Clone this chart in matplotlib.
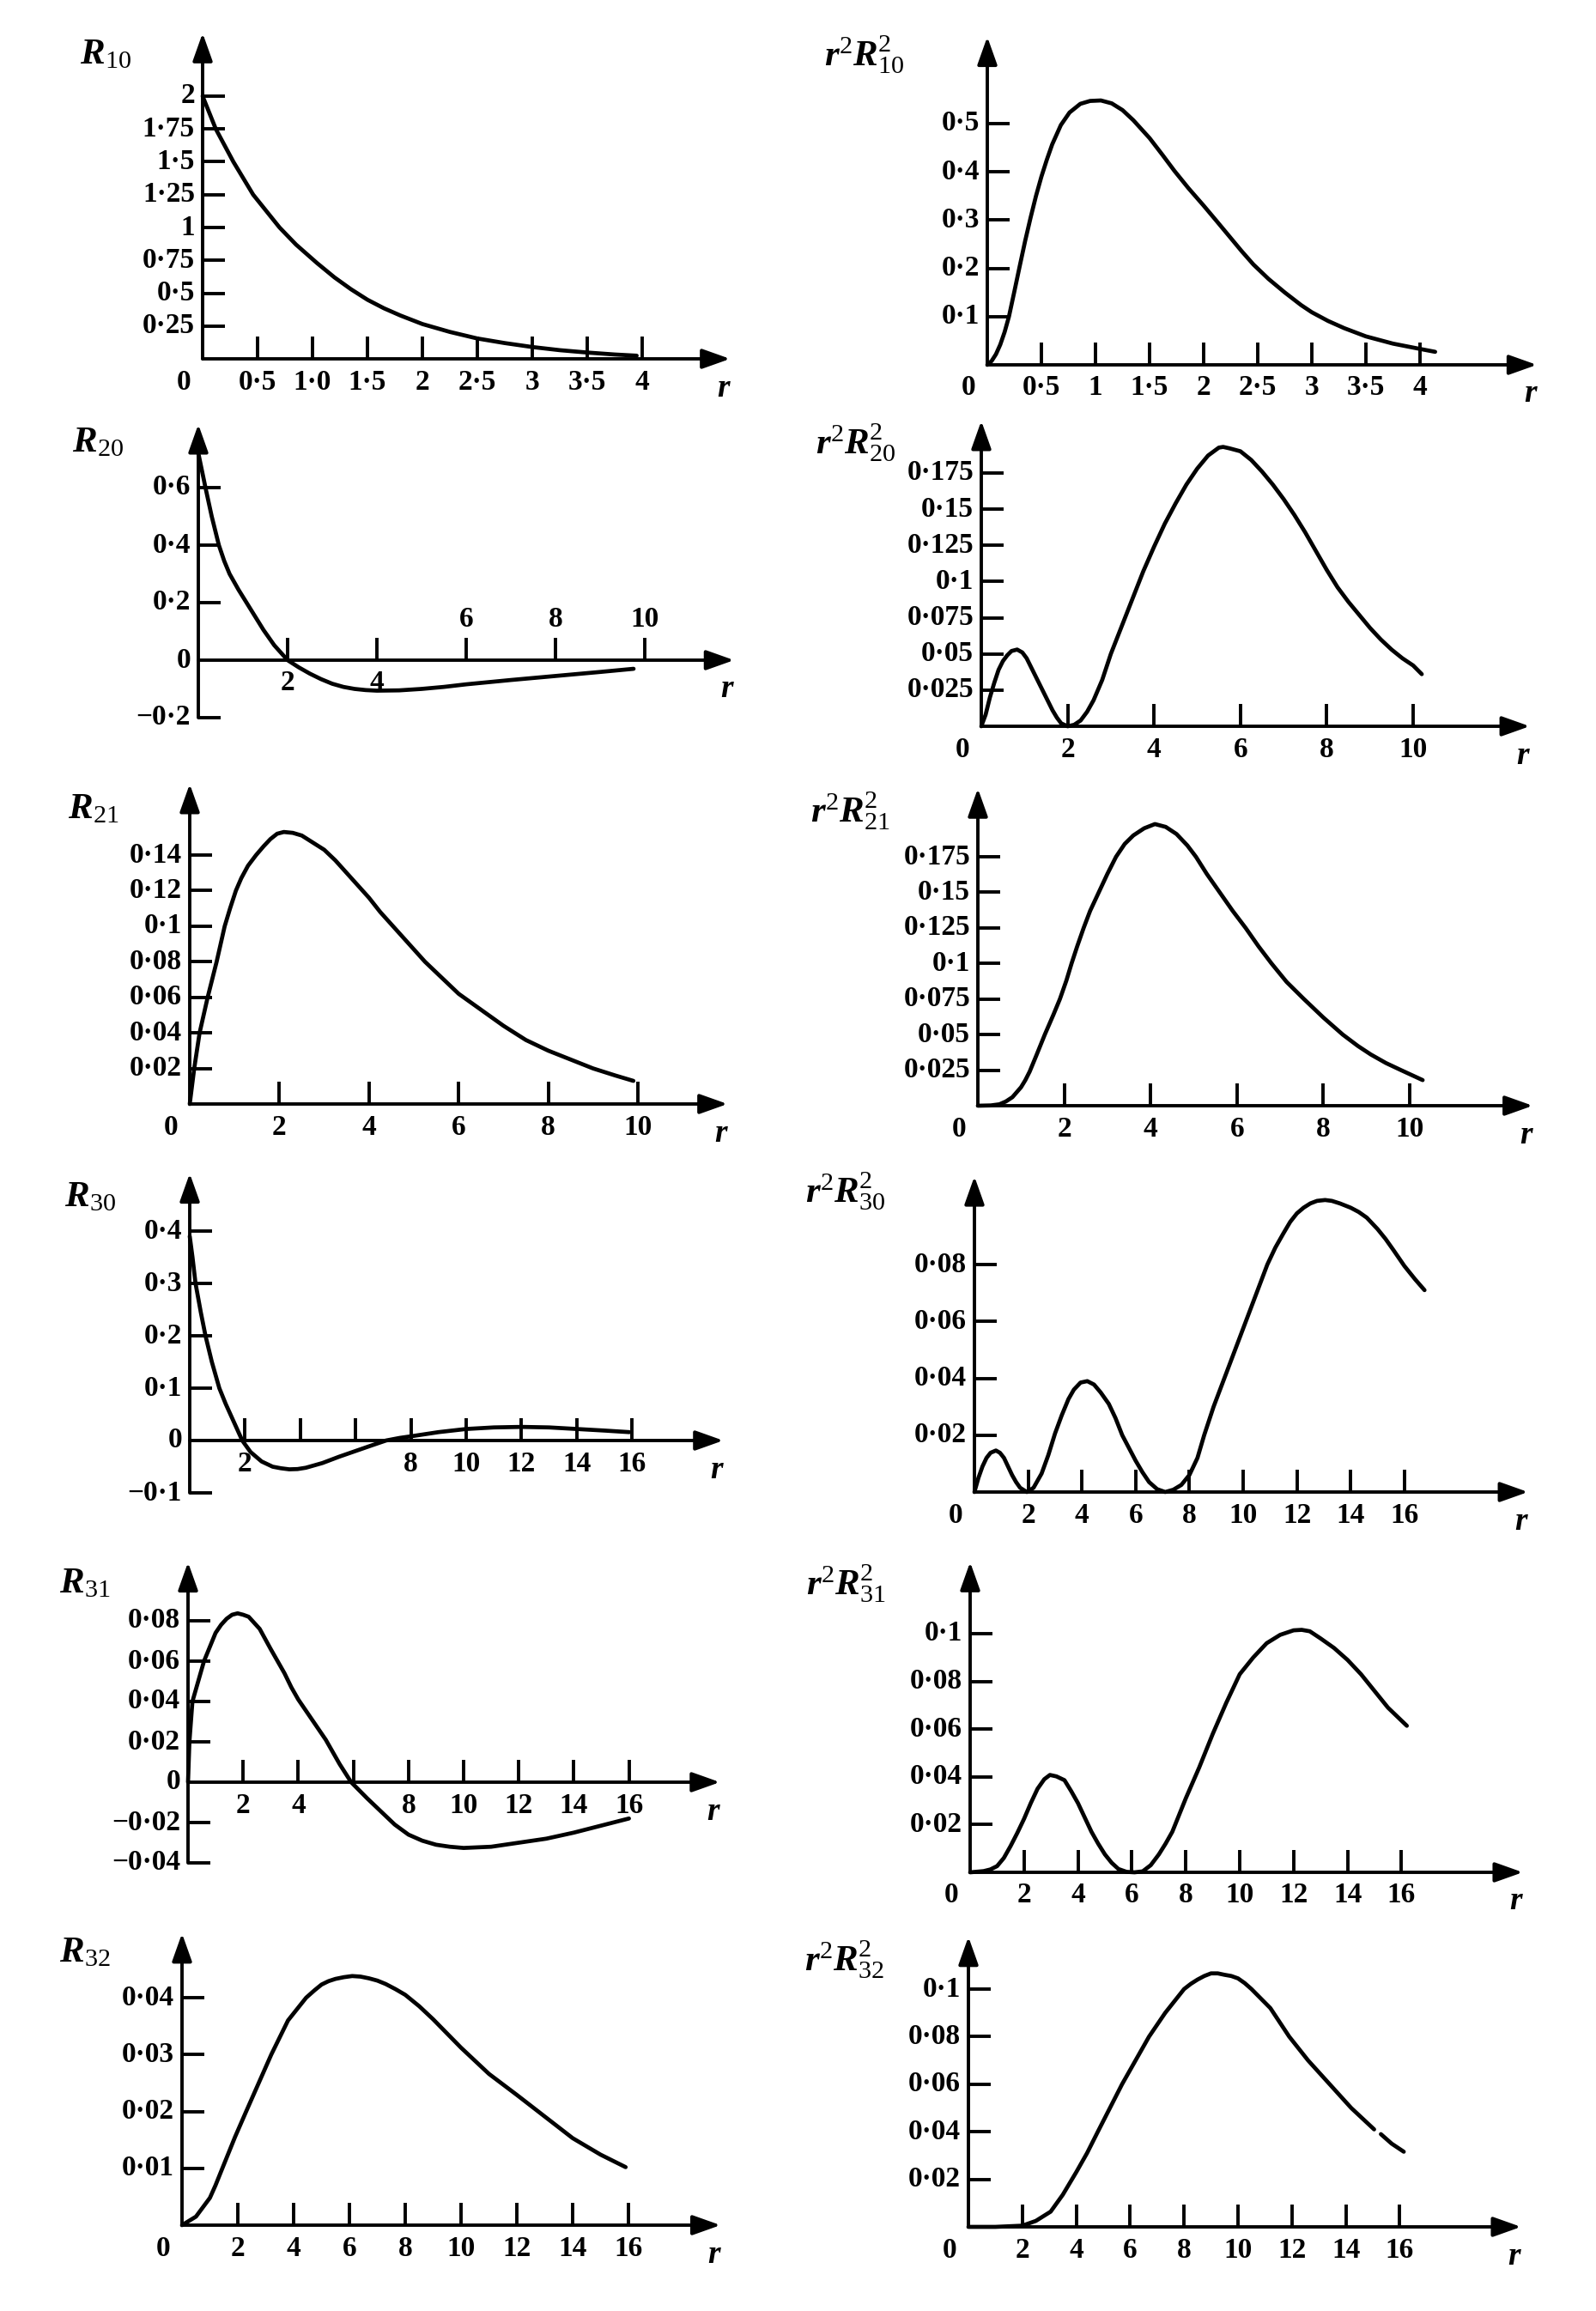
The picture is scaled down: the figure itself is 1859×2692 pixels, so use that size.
import numpy as np
import matplotlib
matplotlib.use('Agg')
import matplotlib.pyplot as plt

plt.rcParams['font.family'] = ['Liberation Serif', 'DejaVu Serif']
plt.rcParams['mathtext.fontset'] = 'custom'
plt.rcParams['mathtext.rm'] = 'Liberation Serif'
plt.rcParams['mathtext.it'] = 'Liberation Serif:italic'
plt.rcParams['mathtext.bf'] = 'Liberation Serif:bold'
HAS_BFIT = 'mathtext.bfit' in plt.rcParams
if HAS_BFIT:
    plt.rcParams['mathtext.bfit'] = 'Liberation Serif:italic:bold'
ITB = r'\mathbfit' if HAS_BFIT else r'\mathit'

# ---------------- data ----------------
R10_r = [0, 0.12, 0.28, 0.46, 0.70, 0.85, 1.04, 1.2, 1.35, 1.5, 1.65, 1.8, 2.0, 2.25, 2.5, 2.75, 3.0, 3.25, 3.5, 3.75, 3.95]
R10_v = [2.0, 1.75, 1.5, 1.25, 1.0, 0.87, 0.73, 0.62, 0.53, 0.45, 0.385, 0.33, 0.265, 0.205, 0.155, 0.12, 0.09, 0.066, 0.048, 0.033, 0.024]
R10_xt = [0.5, 1.0, 1.5, 2.0, 2.5, 3.0, 3.5, 4.0]
R10_xtl = ['0·5', '1·0', '1·5', '2', '2·5', '3', '3·5', '4']
R10_yt = [0.25, 0.5, 0.75, 1.0, 1.25, 1.5, 1.75, 2.0]
R10_ytl = ['0·25', '0·5', '0·75', '1', '1·25', '1·5', '1·75', '2']

P10_r = [0, 0.04, 0.08, 0.12, 0.16, 0.2, 0.25, 0.3, 0.35, 0.4, 0.45, 0.5, 0.55, 0.6, 0.68, 0.76, 0.86, 0.95, 1.05,
         1.15, 1.25, 1.35, 1.5, 1.62, 1.73, 1.86, 2.0, 2.12, 2.25, 2.35, 2.46, 2.6, 2.75, 2.9, 3.0, 3.15, 3.3, 3.5,
         3.75, 4.0, 4.14]
P10_v = [0, 0.008, 0.022, 0.042, 0.068, 0.1, 0.152, 0.205, 0.257, 0.305, 0.35, 0.39, 0.425, 0.457, 0.497, 0.523,
         0.541, 0.547, 0.548, 0.542, 0.528, 0.507, 0.47, 0.435, 0.402, 0.366, 0.33, 0.298, 0.263, 0.236, 0.208, 0.178,
         0.15, 0.124, 0.109, 0.091, 0.076, 0.059, 0.044, 0.033, 0.027]
P10_xt = [0.5, 1.0, 1.5, 2.0, 2.5, 3.0, 3.5, 4.0]
P10_xtl = ['0·5', '1', '1·5', '2', '2·5', '3', '3·5', '4']
P10_yt = [0.1, 0.2, 0.3, 0.4, 0.5]
P10_ytl = ['0·1', '0·2', '0·3', '0·4', '0·5']

R20_r = [0, 0.08, 0.16, 0.23, 0.3, 0.38, 0.46, 0.58, 0.7, 0.9, 1.08, 1.3, 1.46, 1.7, 2.0, 2.25, 2.5, 2.75, 3.0,
         3.25, 3.5, 3.75, 4.0, 4.5, 5.0, 5.5, 6.0, 7.0, 8.0, 9.0, 9.75]
R20_v = [0.72, 0.66, 0.6, 0.55, 0.5, 0.45, 0.4, 0.345, 0.3, 0.245, 0.2, 0.145, 0.105, 0.052, 0.0, -0.025, -0.047,
         -0.066, -0.082, -0.093, -0.1, -0.104, -0.106, -0.105, -0.1, -0.093, -0.084, -0.069, -0.055, -0.041, -0.03]
R20_xt = [2, 4, 6, 8, 10]
R20_xtl = ['2', '4', '6', '8', '10']
R20_yt = [-0.2, 0.2, 0.4, 0.6]
R20_ytl = ['−0·2', '0·2', '0·4', '0·6']

P20_r = [0, 0.1, 0.2, 0.3, 0.4, 0.5, 0.6, 0.7, 0.83, 0.95, 1.05, 1.15, 1.25, 1.35, 1.45, 1.55, 1.65, 1.75, 1.85,
         2.0, 2.15, 2.3, 2.45, 2.6, 2.8, 3.0, 3.25, 3.5, 3.75, 4.0, 4.25, 4.5, 4.75, 5.0, 5.25, 5.5, 5.6, 5.75, 6.0,
         6.25, 6.5, 6.75, 7.0, 7.25, 7.5, 7.75, 8.0, 8.25, 8.5, 8.75, 9.0, 9.25, 9.5, 9.75, 10.0, 10.2]
P20_v = [0, 0.008, 0.02, 0.03, 0.039, 0.045, 0.049, 0.052, 0.053, 0.051, 0.047, 0.041, 0.035, 0.029, 0.023, 0.017,
         0.011, 0.006, 0.002, 0.0, 0.001, 0.004, 0.01, 0.018, 0.032, 0.05, 0.069, 0.088, 0.107, 0.124, 0.14, 0.154,
         0.167, 0.178, 0.187, 0.1925, 0.193, 0.192, 0.19, 0.184, 0.176, 0.167, 0.157, 0.146, 0.134, 0.121, 0.108,
         0.096, 0.086, 0.077, 0.068, 0.06, 0.053, 0.047, 0.042, 0.036]
P20_xt = [2, 4, 6, 8, 10]
P20_xtl = ['2', '4', '6', '8', '10']
P20_yt = [0.025, 0.05, 0.075, 0.1, 0.125, 0.15, 0.175]
P20_ytl = ['0·025', '0·05', '0·075', '0·1', '0·125', '0·15', '0·175']

R21_r = [0, 0.1, 0.22, 0.4, 0.6, 0.78, 0.9, 1.03, 1.15, 1.3, 1.48, 1.65, 1.8, 1.95, 2.1, 2.3, 2.5, 2.75, 3.0,
         3.25, 3.5, 3.75, 4.0, 4.25, 4.5, 4.75, 5.0, 5.25, 5.5, 5.75, 6.0, 6.5, 7.0, 7.5, 8.0, 8.5, 9.0, 9.5, 9.9]
R21_v = [0, 0.02, 0.04, 0.06, 0.08, 0.1, 0.11, 0.12, 0.127, 0.134, 0.14, 0.145, 0.149, 0.152, 0.153, 0.1525, 0.151,
         0.147, 0.143, 0.137, 0.130, 0.123, 0.116, 0.108, 0.101, 0.094, 0.087, 0.08, 0.074, 0.068, 0.062, 0.053,
         0.044, 0.036, 0.030, 0.025, 0.020, 0.016, 0.013]
R21_xt = [2, 4, 6, 8, 10]
R21_xtl = ['2', '4', '6', '8', '10']
R21_yt = [0.02, 0.04, 0.06, 0.08, 0.1, 0.12, 0.14]
R21_ytl = ['0·02', '0·04', '0·06', '0·08', '0·1', '0·12', '0·14']

P21_r = [0, 0.3, 0.5, 0.65, 0.8, 1.0, 1.1, 1.2, 1.35, 1.55, 1.75, 1.9, 2.05, 2.17, 2.3, 2.45, 2.6, 2.8, 3.0, 3.2,
         3.4, 3.6, 3.85, 4.1, 4.35, 4.6, 4.85, 5.05, 5.3, 5.6, 5.9, 6.2, 6.5, 6.8, 7.15, 7.55, 8.0, 8.45, 8.8, 9.1,
         9.45, 9.8, 10.3]
P21_v = [0, 0.0002, 0.001, 0.003, 0.006, 0.013, 0.018, 0.024, 0.035, 0.05, 0.064, 0.075, 0.088, 0.1, 0.112, 0.125,
         0.137, 0.15, 0.163, 0.175, 0.184, 0.19, 0.195, 0.198, 0.196, 0.191, 0.183, 0.175, 0.163, 0.15, 0.137,
         0.125, 0.112, 0.1, 0.087, 0.075, 0.062, 0.05, 0.042, 0.036, 0.03, 0.025, 0.018]
P21_xt = [2, 4, 6, 8, 10]
P21_xtl = ['2', '4', '6', '8', '10']
P21_yt = [0.025, 0.05, 0.075, 0.1, 0.125, 0.15, 0.175]
P21_ytl = ['0·025', '0·05', '0·075', '0·1', '0·125', '0·15', '0·175']

R30_r = [0, 0.1, 0.21, 0.4, 0.57, 0.8, 1.07, 1.3, 1.6, 1.9, 2.2, 2.6, 3.0, 3.3, 3.6, 3.9, 4.2, 4.8, 5.4, 6.0,
         6.6, 7.1, 7.6, 8.0, 8.5, 9.0, 10.0, 11.0, 12.0, 13.0, 14.0, 15.0, 15.9]
R30_v = [0.39, 0.35, 0.30, 0.245, 0.20, 0.15, 0.10, 0.07, 0.035, 0.0, -0.022, -0.04, -0.05, -0.053, -0.055,
         -0.0545, -0.052, -0.043, -0.031, -0.02, -0.009, 0.0, 0.005, 0.008, 0.012, 0.016, 0.022, 0.025, 0.026,
         0.025, 0.022, 0.019, 0.016]
R30_xt = [2, 4, 6, 8, 10, 12, 14, 16]
R30_xtl = ['2', '', '', '8', '10', '12', '14', '16']
R30_yt = [-0.1, 0.1, 0.2, 0.3, 0.4]
R30_ytl = ['−0·1', '0·1', '0·2', '0·3', '0·4']

P30_r = [0, 0.15, 0.3, 0.45, 0.6, 0.8, 0.95, 1.1, 1.25, 1.4, 1.55, 1.7, 1.95, 2.2, 2.5, 2.75, 3.0, 3.25, 3.5,
         3.7, 3.95, 4.2, 4.45, 4.7, 5.0, 5.25, 5.5, 5.75, 6.0, 6.25, 6.5, 6.8, 7.1, 7.4, 7.7, 8.0, 8.3, 8.55, 8.9,
         9.3, 9.7, 10.1, 10.5, 10.9, 11.2, 11.5, 11.75, 12.0, 12.25, 12.5, 12.75, 13.05, 13.3, 13.6, 14.0, 14.3,
         14.6, 15.0, 15.3, 15.6, 16.0, 16.4, 16.75]
P30_v = [0, 0.005, 0.009, 0.012, 0.0138, 0.0146, 0.0138, 0.012, 0.009, 0.006, 0.0035, 0.0015, 0.0, 0.0015,
         0.0065, 0.013, 0.0206, 0.027, 0.0327, 0.036, 0.0385, 0.039, 0.0378, 0.035, 0.031, 0.026, 0.020, 0.0155,
         0.011, 0.007, 0.0035, 0.001, 0.0, 0.0008, 0.0025, 0.006, 0.012, 0.02, 0.03, 0.04, 0.05, 0.06, 0.07, 0.08,
         0.086, 0.091, 0.095, 0.098, 0.1, 0.1015, 0.1024, 0.1027, 0.1024, 0.1015, 0.1, 0.0985, 0.0965, 0.0925,
         0.089, 0.085, 0.0795, 0.0748, 0.071]
P30_xt = [2, 4, 6, 8, 10, 12, 14, 16]
P30_xtl = ['2', '4', '6', '8', '10', '12', '14', '16']
P30_yt = [0.02, 0.04, 0.06, 0.08]
P30_ytl = ['0·02', '0·04', '0·06', '0·08']

R31_r = [0, 0.05, 0.16, 0.58, 1.0, 1.2, 1.4, 1.6, 1.8, 2.0, 2.2, 2.4, 2.6, 2.8, 3.0, 3.25, 3.5, 3.75, 4.0, 4.5,
         5.0, 5.5, 5.92, 6.5, 7.0, 7.5, 8.0, 8.5, 9.0, 9.5, 10.0, 11.0, 12.0, 13.0, 14.0, 15.0, 16.0]
R31_v = [0.0, 0.02, 0.04, 0.06, 0.074, 0.078, 0.081, 0.083, 0.0837, 0.083, 0.082, 0.079, 0.076, 0.071, 0.066,
         0.06, 0.054, 0.047, 0.041, 0.031, 0.021, 0.009, 0.0, -0.008, -0.0145, -0.021, -0.026, -0.029, -0.031,
         -0.032, -0.0326, -0.032, -0.030, -0.028, -0.025, -0.0215, -0.018]
R31_xt = [2, 4, 6, 8, 10, 12, 14, 16]
R31_xtl = ['2', '4', '', '8', '10', '12', '14', '16']
R31_yt = [-0.04, -0.02, 0.02, 0.04, 0.06, 0.08]
R31_ytl = ['−0·04', '−0·02', '0·02', '0·04', '0·06', '0·08']

P31_r = [0, 0.5, 0.75, 1.0, 1.25, 1.5, 1.75, 2.0, 2.25, 2.5, 2.75, 2.96, 3.2, 3.5, 3.75, 4.0, 4.25, 4.5, 4.75,
         5.0, 5.25, 5.5, 5.8, 6.1, 6.4, 6.7, 7.0, 7.25, 7.5, 7.75, 8.0, 8.5, 9.0, 9.5, 10.0, 10.5, 11.0, 11.5,
         12.0, 12.3, 12.6, 13.0, 13.5, 14.0, 14.5, 15.0, 15.5, 16.2]
P31_v = [0, 0.0005, 0.0012, 0.0026, 0.006, 0.011, 0.0165, 0.0224, 0.029, 0.035, 0.039, 0.0408, 0.0402, 0.0386,
         0.034, 0.029, 0.023, 0.017, 0.012, 0.0075, 0.004, 0.0014, 0.0002, 0.0, 0.0004, 0.003, 0.0075, 0.012, 0.017,
         0.024, 0.031, 0.044, 0.058, 0.071, 0.083, 0.09, 0.096, 0.0995, 0.1014, 0.1016, 0.101, 0.098, 0.094,
         0.089, 0.083, 0.076, 0.069, 0.0614]
P31_xt = [2, 4, 6, 8, 10, 12, 14, 16]
P31_xtl = ['2', '4', '6', '8', '10', '12', '14', '16']
P31_yt = [0.02, 0.04, 0.06, 0.08, 0.1]
P31_ytl = ['0·02', '0·04', '0·06', '0·08', '0·1']

R32_r = [0, 0.5, 1.0, 1.2, 1.43, 1.9, 2.3, 2.75, 3.2, 3.8, 4.45, 4.75, 5.0, 5.25, 5.5, 5.8, 6.1, 6.4, 6.7, 7.0,
         7.3, 7.65, 8.0, 8.5, 9.0, 9.5, 10.0, 11.0, 12.0, 13.0, 14.0, 15.0, 15.9]
R32_v = [0, 0.0015, 0.0048, 0.007, 0.0098, 0.0155, 0.02, 0.025, 0.03, 0.036, 0.04, 0.0413, 0.0423, 0.0429,
         0.0433, 0.0436, 0.0438, 0.0437, 0.0434, 0.043, 0.0424, 0.0415, 0.0405, 0.0385, 0.0362, 0.0337, 0.0312,
         0.0266, 0.0229, 0.0191, 0.0153, 0.0124, 0.0102]
R32_xt = [2, 4, 6, 8, 10, 12, 14, 16]
R32_xtl = ['2', '4', '6', '8', '10', '12', '14', '16']
R32_yt = [0.01, 0.02, 0.03, 0.04]
R32_ytl = ['0·01', '0·02', '0·03', '0·04']

P32_r = [0, 1.0, 2.0, 2.5, 3.05, 3.5, 4.0, 4.4, 4.8, 5.25, 5.7, 6.2, 6.7, 7.3, 8.0, 8.25, 8.5, 8.75, 9.0, 9.25,
         9.5, 9.75, 10.0, 10.25, 10.5, 11.2, 11.9, 12.6, 13.4, 14.2, 15.05, np.nan, 15.3, 15.7, 16.15]
P32_v = [0, 0.0, 0.0005, 0.0025, 0.0064, 0.0135, 0.023, 0.031, 0.04, 0.05, 0.06, 0.07, 0.08, 0.09, 0.1, 0.1022,
         0.104, 0.1055, 0.1066, 0.1066, 0.106, 0.1055, 0.1045, 0.1025, 0.1, 0.092, 0.08, 0.07, 0.06, 0.05, 0.041,
         np.nan, 0.039, 0.035, 0.0316]
P32_xt = [2, 4, 6, 8, 10, 12, 14, 16]
P32_xtl = ['2', '4', '6', '8', '10', '12', '14', '16']
P32_yt = [0.02, 0.04, 0.06, 0.08, 0.1]
P32_ytl = ['0·02', '0·04', '0·06', '0·08', '0·1']

# ---------------- layout / style ----------------
W, H, DPI = 1859, 2692, 100
CURVE_LW = 3.4
AX_LW = 2.8
TICK_LW = 2.8
TICK_PX = 26
TICK_FS = 24
TITLE_FS = 31
R_FS = 27


def pt(px):
    return px * 72.0 / DPI


def lab_R(n):
    return r'$' + ITB + r'{R}_{' + n + r'}$'


def lab_P(n):
    return r'$' + ITB + r'{r}^{2}' + ITB + r'{R}^{2}_{' + n + r'}$'


panels = [
    dict(r=R10_r, v=R10_v, xt=R10_xt, xtl=R10_xtl, yt=R10_yt, ytl=R10_ytl, title=lab_R('10'),
         ox=236, oy=418, kx=128, ky=153, xend=4.8, ytop=2.48, ybot=0, tpos=(123, 64), zero='below', above=[]),
    dict(r=P10_r, v=P10_v, xt=P10_xt, xtl=P10_xtl, yt=P10_yt, ytl=P10_ytl, title=lab_P('10'),
         ox=1150, oy=425, kx=126, ky=562, xend=5.08, ytop=0.68, ybot=0, tpos=(1007, 64), zero='below', above=[]),
    dict(r=R20_r, v=R20_v, xt=R20_xt, xtl=R20_xtl, yt=R20_yt, ytl=R20_ytl, title=lab_R('20'),
         ox=231, oy=769, kx=52, ky=335, xend=12.0, ytop=0.82, ybot=-0.2, tpos=(114, 516), zero='left', above=[6, 8, 10]),
    dict(r=P20_r, v=P20_v, xt=P20_xt, xtl=P20_xtl, yt=P20_yt, ytl=P20_ytl, title=lab_P('20'),
         ox=1143, oy=846, kx=50.3, ky=1686, xend=12.7, ytop=0.211, ybot=0, tpos=(997, 516), zero='below', above=[]),
    dict(r=R21_r, v=R21_v, xt=R21_xt, xtl=R21_xtl, yt=R21_yt, ytl=R21_ytl, title=lab_R('21'),
         ox=221, oy=1286, kx=52.2, ky=2071, xend=12.0, ytop=0.18, ybot=0, tpos=(109, 943), zero='below', above=[]),
    dict(r=P21_r, v=P21_v, xt=P21_xt, xtl=P21_xtl, yt=P21_yt, ytl=P21_ytl, title=lab_P('21'),
         ox=1139, oy=1288, kx=50.3, ky=1657, xend=12.85, ytop=0.223, ybot=0, tpos=(990, 945), zero='below', above=[]),
    dict(r=R30_r, v=R30_v, xt=R30_xt, xtl=R30_xtl, yt=R30_yt, ytl=R30_ytl, title=lab_R('30'),
         ox=221, oy=1678, kx=32.2, ky=610, xend=19.3, ytop=0.51, ybot=-0.1, tpos=(105, 1395), zero='left', above=[]),
    dict(r=P30_r, v=P30_v, xt=P30_xt, xtl=P30_xtl, yt=P30_yt, ytl=P30_ytl, title=lab_P('30'),
         ox=1135, oy=1738, kx=31.3, ky=3312, xend=20.6, ytop=0.111, ybot=0, tpos=(985, 1388), zero='below', above=[]),
    dict(r=R31_r, v=R31_v, xt=R31_xt, xtl=R31_xtl, yt=R31_yt, ytl=R31_ytl, title=lab_R('31'),
         ox=219, oy=2076, kx=32.1, ky=2350, xend=19.3, ytop=0.109, ybot=-0.04, tpos=(99, 1845), zero='left', above=[]),
    dict(r=P31_r, v=P31_v, xt=P31_xt, xtl=P31_xtl, yt=P31_yt, ytl=P31_ytl, title=lab_P('31'),
         ox=1130, oy=2181, kx=31.4, ky=2780, xend=20.5, ytop=0.13, ybot=0, tpos=(985, 1845), zero='below', above=[]),
    dict(r=R32_r, v=R32_v, xt=R32_xt, xtl=R32_xtl, yt=R32_yt, ytl=R32_ytl, title=lab_R('32'),
         ox=212, oy=2592, kx=32.5, ky=6625, xend=19.3, ytop=0.0513, ybot=0, tpos=(99, 2275), zero='below', above=[]),
    dict(r=P32_r, v=P32_v, xt=P32_xt, xtl=P32_xtl, yt=P32_yt, ytl=P32_ytl, title=lab_P('32'),
         ox=1128, oy=2594, kx=31.4, ky=2770, xend=20.5, ytop=0.122, ybot=0, tpos=(983, 2283), zero='below', above=[]),
]

fig = plt.figure(figsize=(W / DPI, H / DPI), dpi=DPI)
fig.patch.set_facecolor('white')

arrow_kw = dict(arrowstyle='-|>,head_length=0.9,head_width=0.32', color='k', lw=AX_LW,
                shrinkA=0, shrinkB=0, mutation_scale=22)
txt_kw = dict(textcoords='offset points', fontsize=TICK_FS, fontweight='bold')

for p in panels:
    ox, oy, kx, ky = p['ox'], p['oy'], p['kx'], p['ky']
    x_lo, x_hi = -60.0 / kx, p['xend'] + 10.0 / kx
    y_lo, y_hi = p['ybot'] - 10.0 / ky, p['ytop'] + 5.0 / ky
    left, right = ox + x_lo * kx, ox + x_hi * kx
    top, bottom = oy - y_hi * ky, oy - y_lo * ky
    ax = fig.add_axes([left / W, 1 - bottom / H, (right - left) / W, (bottom - top) / H])
    ax.set_xlim(x_lo, x_hi)
    ax.set_ylim(y_lo, y_hi)
    ax.axis('off')

    # axes with arrows
    ax.annotate('', xy=(p['xend'], 0), xytext=(0, 0), arrowprops=arrow_kw, annotation_clip=False)
    ax.annotate('', xy=(0, p['ytop']), xytext=(0, p['ybot']), arrowprops=arrow_kw, annotation_clip=False)

    # y ticks (pointing right) and labels
    for yv, lab in zip(p['yt'], p['ytl']):
        ax.plot([0, TICK_PX / kx], [yv, yv], color='k', lw=TICK_LW, solid_capstyle='butt', clip_on=False)
        ax.annotate(lab, xy=(0, yv), xytext=(-pt(9), 0), ha='right', va='center', **txt_kw)

    # x ticks (pointing up) and labels
    for xv, lab in zip(p['xt'], p['xtl']):
        ax.plot([xv, xv], [0, TICK_PX / ky], color='k', lw=TICK_LW, solid_capstyle='butt', clip_on=False)
        if not lab:
            continue
        if xv in p['above']:
            ax.annotate(lab, xy=(xv, 0), xytext=(0, pt(TICK_PX + 22)), ha='center', va='center', **txt_kw)
        else:
            ax.annotate(lab, xy=(xv, 0), xytext=(0, -pt(27)), ha='center', va='center', **txt_kw)

    # zero label
    if p['zero'] == 'below':
        ax.annotate('0', xy=(0, 0), xytext=(-pt(22), -pt(27)), ha='center', va='center', **txt_kw)
    else:
        ax.annotate('0', xy=(0, 0), xytext=(-pt(9), 0), ha='right', va='center', **txt_kw)

    # r axis label
    ax.annotate('r', xy=(p['xend'], 0), xytext=(-pt(8), -pt(34)), textcoords='offset points',
                ha='center', va='center', fontsize=R_FS, fontstyle='italic', fontweight='bold')

    # curve
    ax.plot(p['r'], p['v'], color='k', lw=CURVE_LW, solid_capstyle='round', solid_joinstyle='round',
            clip_on=False)

    # title label
    fig.text(p['tpos'][0] / W, 1 - p['tpos'][1] / H, p['title'], ha='center', va='center',
             fontsize=TITLE_FS)

fig.savefig('out.png', dpi=DPI, facecolor='white')
